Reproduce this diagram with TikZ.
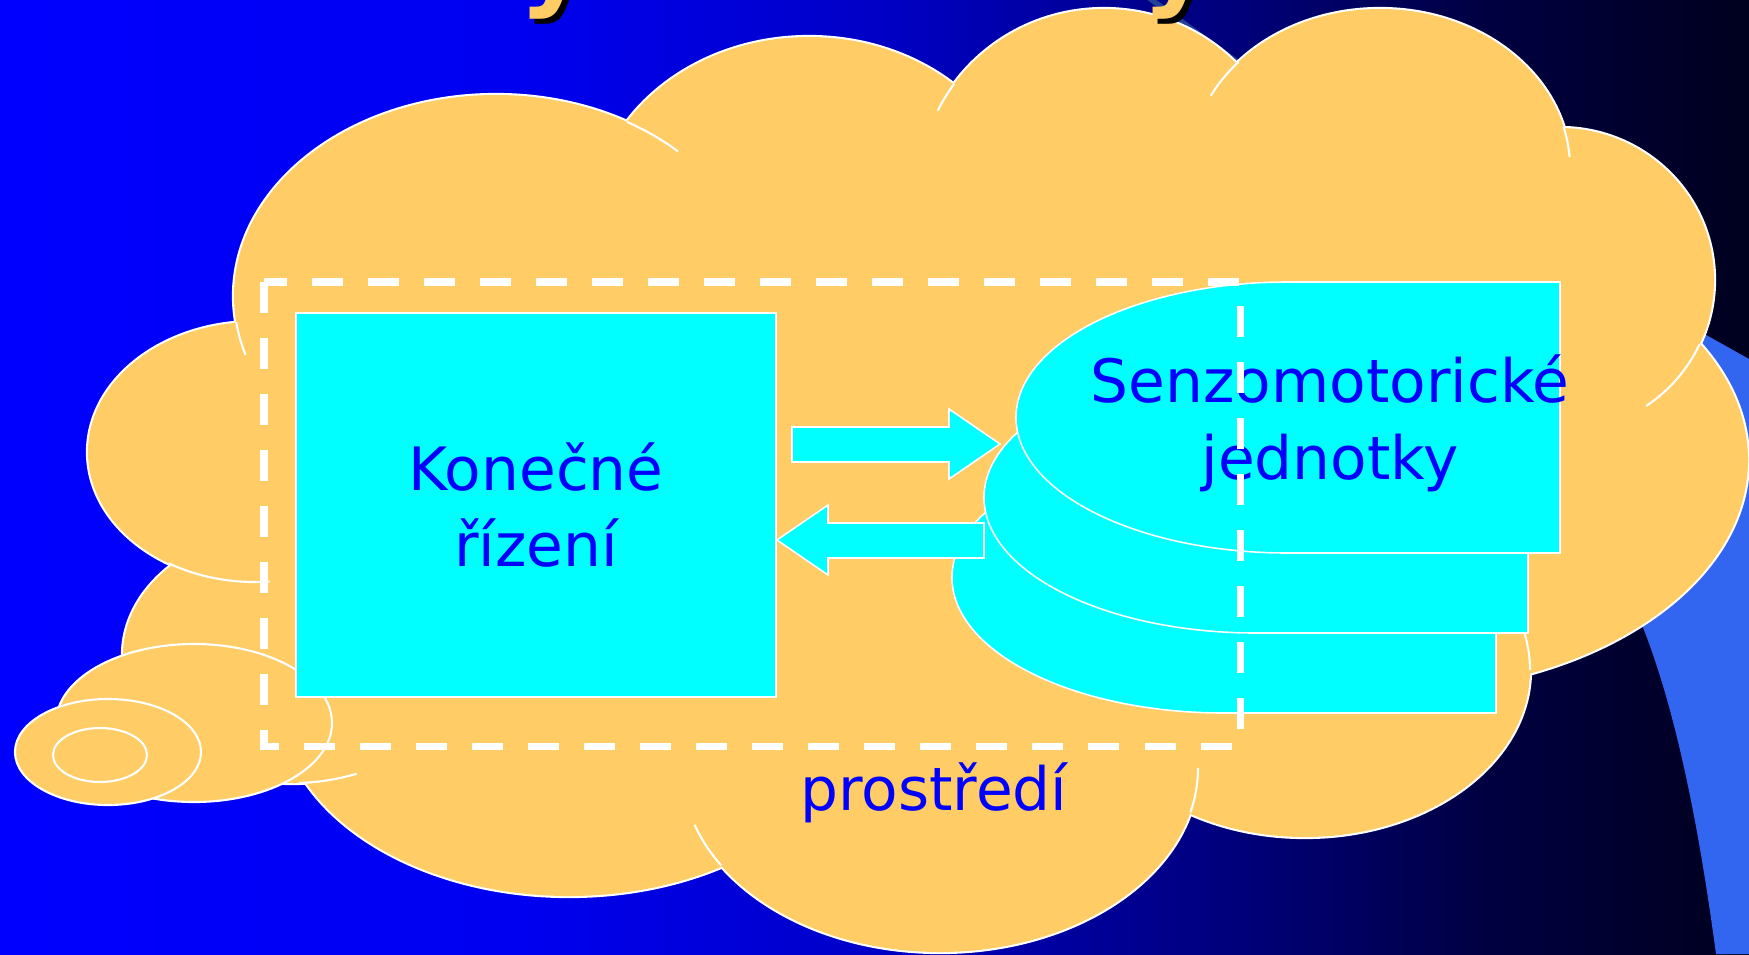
\documentclass[tikz,border=0pt]{standalone}
\usepackage{fontspec}
\newfontfamily\comic{DejaVu Sans}
\definecolor{cloud}{RGB}{255,204,102}
\definecolor{cyanbox}{RGB}{0,255,255}
\definecolor{txtblue}{RGB}{0,0,255}
\definecolor{tailblue}{RGB}{51,102,240}
\definecolor{lineblue}{RGB}{35,65,150}
\pgfdeclarehorizontalshading{bgshade}{100bp}{rgb(0bp)=(0,0,1); rgb(25bp)=(0,0,1); rgb(40bp)=(0,0,0.94); rgb(50bp)=(0,0,0.78); rgb(60bp)=(0,0,0.49); rgb(67.5bp)=(0,0,0.255); rgb(75bp)=(0,0,0.12); rgb(100bp)=(0,0,0.12)}
\begin{document}
\begin{tikzpicture}[x=0.01cm, y=-0.01cm,
  cloudedge/.style={draw=white, line width=1.2pt},
  tailarc/.style={draw=white, line width=0.6pt},
  bubble/.style={fill=cloud, draw=white, line width=0.6pt},
  dshape/.style={fill=cyanbox, draw=white, line width=0.45pt},
  blockarrow/.style={fill=cyanbox, draw=white, line width=0.45pt, line join=miter},
  lbl/.style={font=\comic\fontsize{17pt}{21.8pt}\selectfont, text=txtblue, align=center, inner sep=0pt},
  ctrlbox/.style={lbl, draw=white, line width=0.45pt, fill=cyanbox, minimum width=4.8cm, minimum height=3.84cm},
  envframe/.style={draw=white, line width=2pt, dash pattern=on 8.82pt off 7.11pt},
  ttl/.style={font=\comic\bfseries\fontsize{30pt}{36pt}\selectfont, text=cloud, inner sep=0pt}]
\useasboundingbox (0,0) rectangle (1749,954);
\clip (0,0) rectangle (1749,954);
% background
\shade[shading=bgshade] (0,0) rectangle (1749,954);
% blue shapes behind the cloud
\draw[lineblue, line width=1.5pt] (1145,-5) -- (1255,75);
\fill[tailblue] (1590,270) -- (1749,359) -- (1749,954) -- (1716,954)
  .. controls (1702,850) and (1680,720) .. (1642,625) -- (1570,450) -- cycle;
% cloud: outer outline
\foreach \cx/\cy/\rx/\ry in {496/296/262/201, 809/223/217/186, 1104/190/185/181,
   1380/168/190/159, 1560/280/154/152, 1390/460/358/232, 1305/670/225/167,
   940/768/258/184, 569/700/290/196, 255/452/167/130, 293/655/170/128}
  \draw[cloudedge] (\cx,\cy) ellipse[x radius=\rx, y radius=\ry];
\foreach \cx/\cy/\rx/\ry in {496/296/262/201, 809/223/217/186, 1104/190/185/181,
   1380/168/190/159, 1560/280/154/152, 1390/460/358/232, 1305/670/225/167,
   940/768/258/184, 569/700/290/196, 255/452/167/130, 293/655/170/128}
  \fill[cloud] (\cx,\cy) ellipse[x radius=\rx, y radius=\ry];
\fill[cloud] (300,400) -- (650,200) -- (1000,150) -- (1400,200) -- (1600,350)
  -- (1550,600) -- (1250,750) -- (940,880) -- (550,820) -- (280,620) -- cycle;
% inner arc ends of the cloud
\draw[tailarc] (496,296) ++(300:262 and 201) arc[start angle=300, end angle=314, x radius=262, y radius=201];
\draw[tailarc] (496,296) ++(163:262 and 201) arc[start angle=163, end angle=172.5, x radius=262, y radius=201];
\draw[tailarc] (1104,190) ++(206:185 and 181) arc[start angle=206, end angle=216, x radius=185, y radius=181];
\draw[tailarc] (1380,168) ++(207:190 and 159) arc[start angle=207, end angle=222, x radius=190, y radius=159];
\draw[tailarc] (1380,168) ++(345:190 and 159) arc[start angle=345, end angle=356, x radius=190, y radius=159];
\draw[tailarc] (1560,280) ++(25:154 and 152) arc[start angle=25, end angle=56, x radius=154, y radius=152];
\draw[tailarc] (1305,670) ++(347:225 and 167) arc[start angle=347, end angle=360, x radius=225, y radius=167];
\draw[tailarc] (940,768) ++(0:258 and 184) arc[start angle=0, end angle=14, x radius=258, y radius=184];
\draw[tailarc] (940,768) ++(148:258 and 184) arc[start angle=148, end angle=162, x radius=258, y radius=184];
\draw[tailarc] (293,655) ++(68:170 and 128) arc[start angle=68, end angle=88, x radius=170, y radius=128];
\draw[tailarc] (255,452) ++(85:167 and 130) arc[start angle=85, end angle=121, x radius=167, y radius=130];
% small bubbles
\draw[bubble] (194,723) ellipse[x radius=138, y radius=79];
\draw[bubble] (108,752) ellipse[x radius=93, y radius=53];
\draw[bubble] (100,755) ellipse[x radius=47, y radius=27];
% sensorimotor units (stack)
\foreach \i in {2,1,0}
  \draw[dshape] ({1560-32*\i},{282+80*\i}) -- ({1288-32*\i},{282+80*\i})
    arc[start angle=270, end angle=90, x radius=272, y radius=135.5]
    -- ({1560-32*\i},{553+80*\i}) -- cycle;
% control box
\node[ctrlbox] (ctrl) at (536,505) {Konečné\\řízení};
% block arrows
\draw[blockarrow] (792,427) -- (949,427) -- (949,409) -- (1000,444) -- (949,479) -- (949,462) -- (792,462) -- cycle;
\draw[blockarrow] (777,540) -- (828,505) -- (828,523) -- (984,523) -- (984,558) -- (828,558) -- (828,575) -- cycle;
% labels
\node[lbl] (sensor) at (1330,423) {Senzomotorické\\jednotky};
\node[lbl, anchor=base] (env) at (934,810) {prostředí};
% dashed frame
\draw[envframe] (264,282) -- (264,746) -- (1240,746) -- (1240,282) -- cycle;
% cut-off title glyphs
\node[ttl, text=black, anchor=base west] (t1s) at (524,1) {y};
\node[ttl, anchor=base west] (t1) at (519,-4) {y};
\node[ttl, text=black, anchor=base west] (t2s) at (1147,1) {y};
\node[ttl, anchor=base west] (t2) at (1142,-4) {y};
\end{tikzpicture}
\end{document}
